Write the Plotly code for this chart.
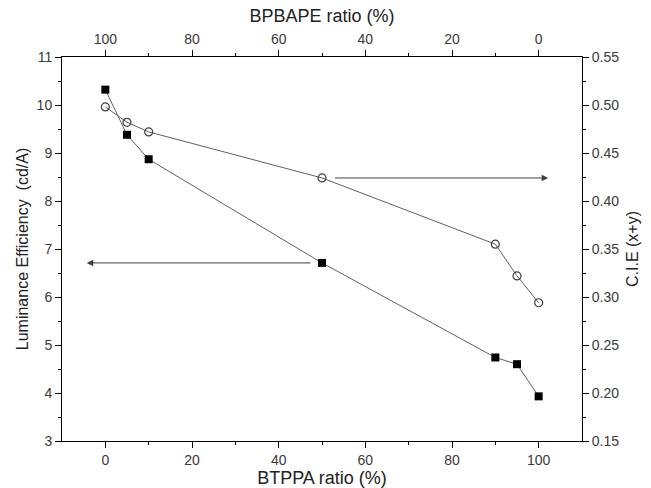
import plotly.graph_objects as go

btppa_ratio = [0, 5, 10, 50, 90, 95, 100]
luminance_eff = [10.32, 9.38, 8.87, 6.71, 4.74, 4.60, 3.93]
cie_xy = [0.498, 0.482, 0.472, 0.424, 0.355, 0.322, 0.294]

top_ticks = [100, 80, 60, 40, 20, 0]

FONT = "Liberation Sans, Arial, sans-serif"
LINE_COL = "#606060"

fig = go.Figure()
fig.add_trace(go.Scatter(
    x=btppa_ratio, y=luminance_eff, mode="lines+markers",
    line=dict(color=LINE_COL, width=1),
    marker=dict(symbol="square", size=8, color="black", line=dict(color="black", width=0)),
    showlegend=False, xaxis="x", yaxis="y"))
fig.add_trace(go.Scatter(
    x=btppa_ratio, y=cie_xy, mode="lines+markers",
    line=dict(color=LINE_COL, width=1),
    marker=dict(symbol="circle-open", size=8, color="#404040", line=dict(width=1.2)),
    showlegend=False, xaxis="x", yaxis="y2"))
# invisible trace so the top (BPBAPE) axis is rendered
fig.add_trace(go.Scatter(
    x=[100 - v for v in btppa_ratio], y=luminance_eff, mode="markers",
    marker=dict(opacity=0), hoverinfo="skip", showlegend=False,
    xaxis="x2", yaxis="y"))

tickfont = dict(family=FONT, size=14, color="#3a3a3a")
xtitlefont = dict(family=FONT, size=18, color="#222222")
ytitlefont = dict(family=FONT, size=16, color="#222222")

common = dict(showline=True, linecolor="black", linewidth=1, ticks="outside",
              ticklen=6, tickcolor="black", tickwidth=1, showgrid=False,
              zeroline=False, tickfont=tickfont, automargin=False)

minor_x = dict(tickvals=[10, 30, 50, 70, 90], ticklen=3, ticks="outside", tickcolor="black")

fig.update_layout(
    width=651, height=488,
    margin=dict(l=62, r=69, t=57, b=47),
    paper_bgcolor="white", plot_bgcolor="white",
    xaxis=dict(range=[-10, 110], tickvals=[0, 20, 40, 60, 80, 100],
               minor=minor_x,
               title=dict(text="BTPPA ratio (%)", font=xtitlefont, standoff=1),
               anchor="y", **common),
    xaxis2=dict(range=[110, -10], overlaying="x", side="top", anchor="y",
                tickvals=top_ticks, ticktext=[str(t) for t in top_ticks],
                minor=minor_x,
                title=dict(text="BPBAPE ratio (%)", font=xtitlefont, standoff=4),
                **common),
    yaxis=dict(range=[3, 11], dtick=1, tick0=3,
               minor=dict(dtick=0.5, tick0=3, ticklen=3, ticks="outside", tickcolor="black"),
               title=dict(text="Luminance Efficiency  (cd/A)", font=ytitlefont, standoff=4),
               anchor="x", **common),
    yaxis2=dict(range=[0.15, 0.55], dtick=0.05, tick0=0.15, tickformat=".2f",
                overlaying="y", side="right", anchor="x",
                minor=dict(dtick=0.025, tick0=0.15, ticklen=3, ticks="outside", tickcolor="black"),
                title=dict(text="C.I.E (x+y)", font=ytitlefont, standoff=8),
                **common),
)

arrow_col = "#404040"
fig.add_annotation(x=-4.3, y=luminance_eff[3], ax=47.7, ay=luminance_eff[3],
                   xref="x", yref="y", axref="x", ayref="y",
                   showarrow=True, arrowhead=2, arrowsize=1.3, arrowwidth=1,
                   arrowcolor=arrow_col, text="", standoff=0, startstandoff=0)
fig.add_annotation(x=102.2, y=cie_xy[3], ax=52.7, ay=cie_xy[3],
                   xref="x", yref="y2", axref="x", ayref="y2",
                   showarrow=True, arrowhead=2, arrowsize=1.3, arrowwidth=1,
                   arrowcolor=arrow_col, text="", standoff=0, startstandoff=0)

fig.write_html("out.html")
